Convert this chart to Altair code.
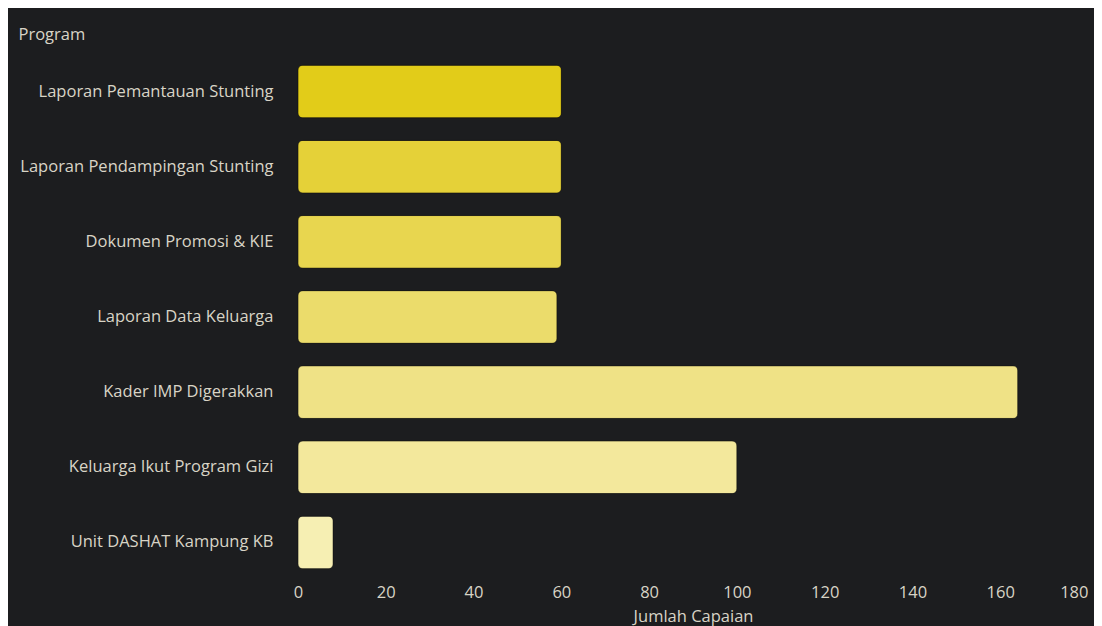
import altair as alt
import pandas as pd

programs = [
    "Laporan Pemantauan Stunting",
    "Laporan Pendampingan Stunting",
    "Dokumen Promosi & KIE",
    "Laporan Data Keluarga",
    "Kader IMP Digerakkan",
    "Keluarga Ikut Program Gizi",
    "Unit DASHAT Kampung KB",
]
values = [60, 60, 60, 59, 164, 100, 8]
colors = ["#e2cc19", "#e5d138", "#e8d64f", "#ebdc6b", "#efe286", "#f3e89c", "#f6efb3"]
x_ticks = [0, 20, 40, 60, 80, 100, 120, 140, 160, 180]

df = pd.DataFrame({"Program": programs, "Jumlah Capaian": values})

FONT = "Open Sans"
TXT = "#d8d4c6"

chart = (
    alt.Chart(df)
    .mark_bar(cornerRadius=5, stroke="#000000", strokeOpacity=0.3, strokeWidth=1)
    .encode(
        x=alt.X(
            "Jumlah Capaian:Q",
            scale=alt.Scale(domain=[0, 180], nice=False),
            axis=alt.Axis(
                values=x_ticks,
                grid=False, domain=False, ticks=False, labelFlush=False,
                labelAlign=alt.ExprRef("datum.value >= 180 ? 'right' : 'center'"),
                labelPadding=4, titlePadding=8,
            ),
        ),
        y=alt.Y(
            "Program:N",
            sort=programs,
            scale=alt.Scale(paddingInner=0.3, paddingOuter=0.15),
            axis=alt.Axis(
                grid=False, domain=False, ticks=False, labelPadding=25, labelLimit=0,
                titleAngle=0, titleAlign="left", titleBaseline="middle",
                titleX=-280, titleY=-20,
            ),
        ),
        color=alt.Color("Program:N", scale=alt.Scale(domain=programs, range=colors), legend=None),
    )
    .properties(
        width=790,
        height=526,
        background="#1c1d1f",
        autosize=alt.AutoSizeParams(type="none"),
        padding={"left": 290, "top": 46, "right": 6, "bottom": 60},
    )
    .configure_view(stroke=None)
    .configure_axis(
        labelFont=FONT, titleFont=FONT, labelFontSize=16.5, titleFontSize=16.5,
        labelColor=TXT, titleColor=TXT, titleFontWeight="normal",
    )
)

chart.save("out.html", embed_options={"renderer": "svg", "actions": False})
